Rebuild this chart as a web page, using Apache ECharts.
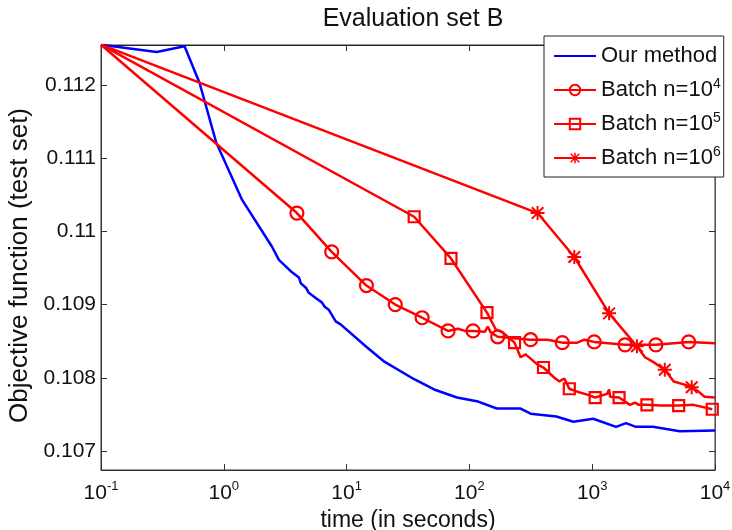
<!DOCTYPE html>
<html>
<head>
<meta charset="utf-8">
<script src="https://cdn.jsdelivr.net/npm/echarts@6.0.0/dist/echarts.min.js"></script>
<style>
  html, body { margin: 0; padding: 0; background: #fff; }
  #chart { width: 732px; height: 530px; }
</style>
</head>
<body>
<div id="chart"></div>
<script>
// values (time in seconds, objective on test set)
var ourTime = [0.1, 0.284, 0.479, 0.634, 0.869, 1.41, 2.47, 2.81, 3.59, 4.09, 4.24, 4.66, 4.92, 5.71, 6.28, 6.63, 7.15, 8.15, 8.46, 8.94, 14.3, 20.3, 35.5, 51.6, 79.2, 115, 167, 261, 315, 511, 702, 1019, 1564, 1884, 2270, 3119, 5160, 10000];
var ourObj = [0.11255, 0.11245, 0.11253, 0.11203, 0.11121, 0.11043, 0.10979, 0.10961, 0.10944, 0.10937, 0.10929, 0.10923, 0.10916, 0.10908, 0.10903, 0.10897, 0.10893, 0.10877, 0.10879, 0.10873, 0.10843, 0.10822, 0.10798, 0.10784, 0.10773, 0.10768, 0.10758, 0.10758, 0.10751, 0.10747, 0.10740, 0.10744, 0.10733, 0.10738, 0.10733, 0.10733, 0.10727, 0.10728];

// batch n=10^4 : marked points + in-between points
var b4MarkTime = [0.1, 3.94, 7.56, 14.5, 24.9, 41.2, 67.0, 107, 170, 315, 571, 1038, 1850, 3300, 6100];
var b4MarkObj = [0.11255, 0.11025, 0.10972, 0.10926, 0.10900, 0.10882, 0.10864, 0.10864, 0.10856, 0.10852, 0.10848, 0.10849, 0.10845, 0.10845, 0.10849];
var b4PathTime = [80.7, 92.0, 134, 141, 149, 432, 756, 862, 10000];
var b4PathObj = [0.10867, 0.10864, 0.10863, 0.10870, 0.10862, 0.10852, 0.10848, 0.10852, 0.10847];

// batch n=10^5
var b5MarkTime = [0.1, 35.5, 70.8, 139, 233, 401, 651, 1057, 1655, 2790, 5060, 9500];
var b5MarkObj = [0.11255, 0.11020, 0.10963, 0.10889, 0.10848, 0.10814, 0.10785, 0.10773, 0.10773, 0.10763, 0.10762, 0.10757];
var b5PathTime = [164, 187, 261, 287, 359, 492, 541, 593, 756, 912, 1322, 1373, 1400, 2030, 2230, 2400, 3560, 6700];
var b5PathObj = [0.10866, 0.10862, 0.10828, 0.10832, 0.10818, 0.10800, 0.10795, 0.10799, 0.10781, 0.10777, 0.10778, 0.10784, 0.10774, 0.10763, 0.10766, 0.10763, 0.10762, 0.10763];

// batch n=10^6
var b6MarkTime = [0.1, 359, 715, 1373, 2313, 3900, 6455];
var b6MarkObj = [0.11255, 0.11025, 0.10965, 0.10888, 0.10843, 0.10811, 0.10787];
var b6PathTime = [2690, 3180, 4610, 5560, 7350, 8220, 10000];
var b6PathObj = [0.10828, 0.10821, 0.10795, 0.10791, 0.10781, 0.10774, 0.10773];

var seriesNames = ['Our method', 'Batch n=10^4', 'Batch n=10^5', 'Batch n=10^6'];
var xTicks = [0.1, 1, 10, 100, 1000, 10000];
var yMin = 0.10674, yMax = 0.112546;

var starPath = 'path://M10.3,0H13.7V24H10.3Z M0,10.3H24V13.7H0Z M3.3,0.9L23.1,20.7L20.7,23.1L0.9,3.3Z M20.7,0.9L23.1,3.3L3.3,23.1L0.9,20.7Z';
var FONT = 'Liberation Sans';

function zip(xs, ys) {
    var out = [];
    for (var i = 0; i < xs.length; i++) out.push([xs[i], ys[i]]);
    return out;
}

// marked points keep the series symbol, path points get none
function mixData(mt, mo, pt, po) {
    var all = [];
    for (var i = 0; i < mt.length; i++) all.push({ value: [mt[i], mo[i]] });
    for (var j = 0; j < pt.length; j++) all.push({ value: [pt[j], po[j]], symbol: 'none' });
    all.sort(function (a, b) { return a.value[0] - b.value[0]; });
    return all;
}

function supLabel(v) {
    var e = Math.round(Math.log(v) / Math.LN10);
    return '{b|10}{s|' + e + '}';
}

var myChart = echarts.init(document.getElementById('chart'));
var option = {
    animation: false,
    backgroundColor: '#fff',
    textStyle: { fontFamily: FONT },
    title: {
        text: 'Evaluation set B',
        left: 408,
        textAlign: 'center',
        top: 2,
        textStyle: { fontFamily: FONT, fontSize: 25, fontWeight: 'normal', color: '#111' }
    },
    legend: {
        data: seriesNames,
        orient: 'vertical',
        left: 544,
        top: 36,
        padding: [7, 3, 6, 9],
        itemGap: 8,
        itemWidth: 42,
        itemHeight: 13,
        borderColor: '#222',
        borderWidth: 1,
        backgroundColor: '#fff',
        z: 10,
        formatter: function (n) {
            return n.replace(/\^(\d+)/, '{s|$1}');
        },
        textStyle: {
            fontFamily: FONT, fontSize: 22, color: '#111', lineHeight: 26,
            rich: { s: { fontFamily: FONT, fontSize: 14, verticalAlign: 'top', lineHeight: 26 } }
        }
    },
    grid: {
        left: 101, right: 17, top: 45, bottom: 60,
        outerBoundsMode: 'none', containLabel: false,
        show: true, borderColor: '#333', borderWidth: 1
    },
    xAxis: [{
        type: 'log',
        logBase: 10,
        min: xTicks[0],
        max: xTicks[xTicks.length - 1],
        name: 'time (in seconds)',
        nameLocation: 'middle',
        nameGap: 37,
        nameTextStyle: { fontFamily: FONT, fontSize: 23, color: '#111' },
        axisLine: { lineStyle: { color: '#333' } },
        axisTick: { inside: true, length: 6, lineStyle: { color: '#333' } },
        splitLine: { show: false },
        minorTick: { show: false },
        axisLabel: {
            margin: 10,
            color: '#111',
            formatter: supLabel,
            rich: {
                b: { fontFamily: FONT, fontSize: 21, lineHeight: 24, verticalAlign: 'bottom' },
                s: { fontFamily: FONT, fontSize: 13, lineHeight: 24, verticalAlign: 'top' }
            }
        }
    }, {
        type: 'log',
        logBase: 10,
        position: 'top',
        min: xTicks[0],
        max: xTicks[xTicks.length - 1],
        axisLine: { lineStyle: { color: '#222' } },
        axisTick: { inside: true, length: 6, lineStyle: { color: '#333' } },
        axisLabel: { show: false },
        splitLine: { show: false }
    }],
    yAxis: [{
        type: 'value',
        min: yMin,
        max: yMax,
        splitNumber: 6,
        name: 'Objective function (test set)',
        nameLocation: 'middle',
        nameGap: 68,
        nameTextStyle: { fontFamily: FONT, fontSize: 26, color: '#111', padding: [0, 16, 0, 0] },
        axisLine: { show: true, lineStyle: { color: '#333' } },
        axisTick: { show: true, inside: true, length: 6, lineStyle: { color: '#333' } },
        splitLine: { show: false },
        axisLabel: {
            margin: 5,
            color: '#111',
            fontFamily: FONT,
            fontSize: 21,
            showMinLabel: false,
            showMaxLabel: false,
            formatter: function (v) { return String(+v.toFixed(4)); }
        }
    }, {
        type: 'value',
        position: 'right',
        min: yMin,
        max: yMax,
        splitNumber: 6,
        axisLine: { show: true, lineStyle: { color: '#555' } },
        axisTick: { show: true, inside: true, length: 6, lineStyle: { color: '#333' } },
        axisLabel: { show: false },
        splitLine: { show: false }
    }],
    series: [{
        name: seriesNames[0],
        type: 'line',
        symbol: 'circle',
        showSymbol: false,
        data: zip(ourTime, ourObj),
        lineStyle: { color: '#0000ff', width: 2.5 },
        itemStyle: { color: 'rgba(0,0,255,0)' }
    }, {
        name: seriesNames[1],
        type: 'line',
        symbol: 'circle',
        symbolSize: 13,
        data: mixData(b4MarkTime, b4MarkObj, b4PathTime, b4PathObj),
        lineStyle: { color: '#ff0000', width: 2.5 },
        itemStyle: { color: 'rgba(255,255,255,0)', borderColor: '#ff0000', borderWidth: 2.2 }
    }, {
        name: seriesNames[2],
        type: 'line',
        symbol: 'rect',
        symbolSize: 11,
        data: mixData(b5MarkTime, b5MarkObj, b5PathTime, b5PathObj),
        lineStyle: { color: '#ff0000', width: 2.5 },
        itemStyle: { color: 'rgba(255,255,255,0)', borderColor: '#ff0000', borderWidth: 2.2 }
    }, {
        name: seriesNames[3],
        type: 'line',
        symbol: starPath,
        symbolSize: 14,
        data: mixData(b6MarkTime, b6MarkObj, b6PathTime, b6PathObj),
        lineStyle: { color: '#ff0000', width: 2.5 },
        itemStyle: { color: '#ff0000' }
    }]
};
myChart.setOption(option);
window.addEventListener('resize', function () { myChart.resize(); });
</script>
</body>
</html>
